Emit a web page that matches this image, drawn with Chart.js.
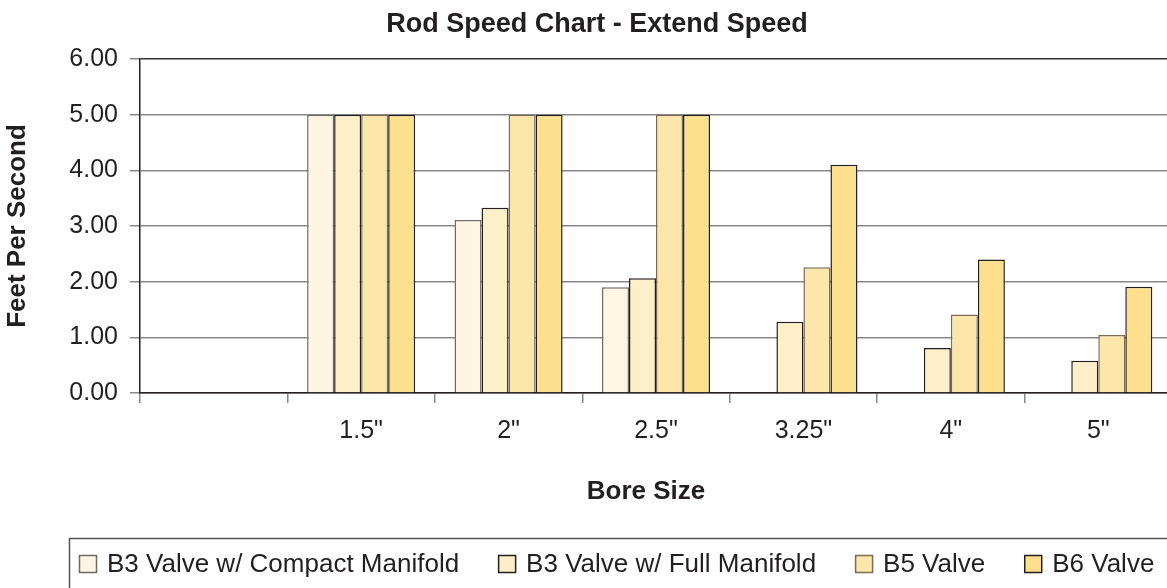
<!DOCTYPE html>
<html>
<head>
<meta charset="utf-8">
<title>Rod Speed Chart - Extend Speed</title>
<script src="https://cdn.jsdelivr.net/npm/chart.js@4"></script>
<style>
  html, body { margin: 0; padding: 0; background: #fff; overflow: hidden; }
  #wrap { width: 1172px; height: 588px; }
</style>
</head>
<body>
<div id="wrap"><canvas id="speedChart" width="1172" height="588"></canvas></div>
<script>
// Extend speed (feet per second) by bore size and valve option
const boreSizes = ["", "1.5\"", "2\"", "2.5\"", "3.25\"", "4\"", "5\""];
const b3Compact = [null, 5.00, 3.11, 1.90, null, null, null];
const b3Full = [null, 5.00, 3.33, 2.06, 1.28, 0.81, 0.58];
const b5Valve = [null, 5.00, 5.00, 5.00, 2.26, 1.41, 1.04];
const b6Valve = [null, 5.00, 5.00, 5.00, 4.10, 2.40, 1.91];
const speedMax = 6;

const FONT = "'Liberation Sans', Arial, Helvetica, sans-serif";
const INK = "#231f20";

// chart title, x axis title and the framed legend along the bottom
const decorations = {
    id: "decorations",
    afterDraw(chart) {
        const ctx = chart.ctx;
        ctx.save();
        ctx.fillStyle = INK;
        ctx.textAlign = "center";
        ctx.textBaseline = "alphabetic";
        ctx.font = "bold 27px " + FONT;
        ctx.fillText("Rod Speed Chart - Extend Speed", 597, 32);
        ctx.font = "bold 26px " + FONT;
        ctx.fillText("Bore Size", 646, 499);

        // legend frame
        ctx.strokeStyle = "#555";
        ctx.lineWidth = 1.5;
        ctx.strokeRect(69.5, 538.5, 1200, 100);

        ctx.font = "26px " + FONT;
        ctx.textAlign = "left";
        ctx.textBaseline = "middle";
        let x = 79;
        chart.data.datasets.forEach(ds => {
            ctx.fillStyle = ds.backgroundColor;
            ctx.fillRect(x, 555, 17, 17);
            ctx.strokeStyle = ds.borderColor;
            ctx.lineWidth = 1.5;
            ctx.strokeRect(x + 0.5, 555.5, 17, 17);
            ctx.fillStyle = INK;
            ctx.fillText(ds.label, x + 28, 565);
            x += 28 + ctx.measureText(ds.label).width + 39;
        });
        ctx.restore();
    }
};

new Chart(document.getElementById("speedChart"), {
    type: "bar",
    data: {
        labels: boreSizes,
        datasets: [
            {
                label: "B3 Valve w/ Compact Manifold",
                data: b3Compact,
                backgroundColor: "#fef5e2",
                borderColor: "#6f6a64"
            },
            {
                label: "B3 Valve w/ Full Manifold",
                data: b3Full,
                backgroundColor: "#feefc9",
                borderColor: "#231f20"
            },
            {
                label: "B5 Valve",
                data: b5Valve,
                backgroundColor: "#fde6a9",
                borderColor: "#7a6c55"
            },
            {
                label: "B6 Valve",
                data: b6Valve,
                backgroundColor: "#fde08e",
                borderColor: "#231f20"
            }
        ]
    },
    options: {
        responsive: false,
        animation: false,
        devicePixelRatio: 1,
        layout: { padding: { top: 59, left: 0, right: 0, bottom: 0 } },
        datasets: {
            bar: {
                borderWidth: 1.5,
                categoryPercentage: 0.733,
                barPercentage: 1.0
            }
        },
        plugins: {
            legend: { display: false },
            title: { display: false },
            tooltip: { enabled: false }
        },
        scales: {
            x: {
                offset: true,
                afterFit: scale => { scale.height = 195; },
                grid: {
                    offset: true,
                    drawOnChartArea: false,
                    drawTicks: true,
                    tickLength: 10,
                    tickColor: "#888",
                    lineWidth: 1.5
                },
                border: { display: true, color: INK, width: 1.5 },
                ticks: {
                    color: INK,
                    padding: 13,
                    font: { family: FONT, size: 25 }
                }
            },
            y: {
                min: 0,
                max: speedMax,
                afterFit: scale => { scale.width = 140; },
                grid: {
                    color: c => (c.tick && c.tick.value === speedMax ? "#333" : "#888"),
                    lineWidth: 1.5,
                    drawTicks: true,
                    tickLength: 10,
                    tickColor: "#888"
                },
                border: { display: true, color: INK, width: 1.5 },
                ticks: {
                    stepSize: 1,
                    color: INK,
                    padding: 12,
                    font: { family: FONT, size: 25 },
                    callback: v => v.toFixed(2)
                },
                title: {
                    display: true,
                    text: "Feet Per Second",
                    color: INK,
                    padding: { top: 2, bottom: 0 },
                    font: { family: FONT, size: 26, weight: "bold" }
                }
            }
        }
    },
    plugins: [decorations]
});
</script>
</body>
</html>
